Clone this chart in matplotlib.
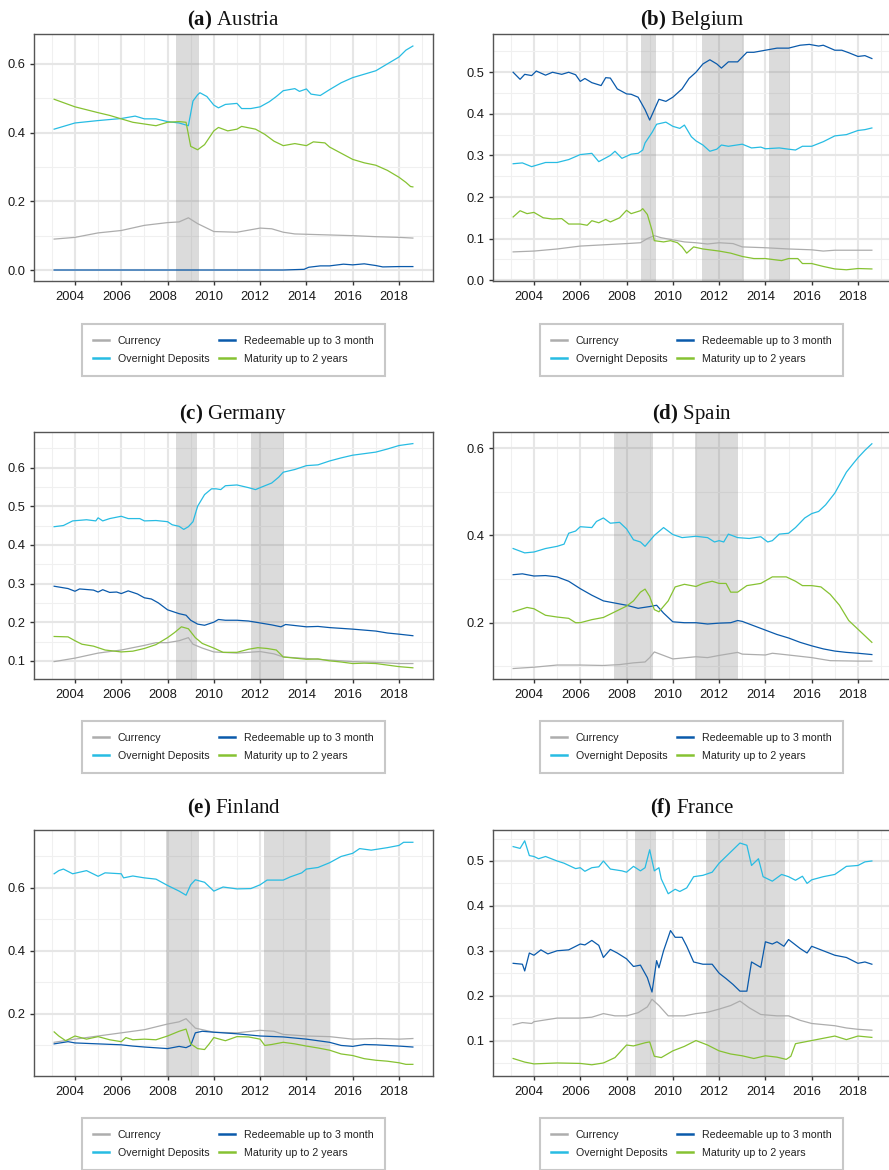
import matplotlib
matplotlib.use("Agg")
import matplotlib.pyplot as plt
import matplotlib.transforms as mtransforms
from matplotlib.lines import Line2D

# ---------------- DATA (year, share) ----------------
AT_CUR = [(2003.1,0.090),(2004,0.095),(2005,0.108),(2006,0.115),(2007,0.130),(2008,0.138),(2008.5,0.140),
          (2008.9,0.152),(2009.3,0.135),(2010,0.112),(2011,0.110),(2012,0.122),(2012.5,0.120),(2013,0.110),
          (2013.5,0.105),(2014,0.104),(2016,0.100),(2017,0.097),(2018,0.095),(2018.6,0.093)]
AT_ON = [(2003.1,0.410),(2004,0.428),(2005,0.435),(2006,0.441),(2006.6,0.448),(2007,0.440),(2007.5,0.440),
         (2008,0.432),(2008.5,0.428),(2008.9,0.420),(2009.1,0.492),(2009.3,0.510),(2009.4,0.516),
         (2009.7,0.505),(2010,0.480),(2010.2,0.472),(2010.5,0.482),(2011,0.485),(2011.2,0.470),
         (2011.6,0.470),(2012,0.475),(2012.4,0.490),(2012.7,0.505),(2013,0.522),(2013.5,0.528),
         (2013.7,0.520),(2014,0.527),(2014.2,0.512),(2014.6,0.508),(2015,0.525),(2015.5,0.545),
         (2016,0.560),(2016.5,0.570),(2017,0.580),(2017.5,0.600),(2018,0.620),(2018.3,0.640),(2018.6,0.652)]
AT_RED = [(2003.1,0.0),(2013,0.0),(2013.9,0.002),(2014.1,0.008),(2014.6,0.012),(2015,0.012),(2015.6,0.017),
          (2016,0.015),(2016.5,0.018),(2017,0.013),(2017.3,0.009),(2018,0.010),(2018.6,0.010)]
AT_MAT = [(2003.1,0.497),(2004,0.475),(2005,0.458),(2005.5,0.450),(2006,0.440),(2006.5,0.430),(2007,0.425),
          (2007.5,0.420),(2008,0.430),(2008.5,0.432),(2008.8,0.430),(2009.0,0.360),(2009.3,0.350),
          (2009.6,0.365),(2010,0.405),(2010.2,0.415),(2010.6,0.405),(2011,0.410),(2011.2,0.418),
          (2011.8,0.410),(2012.2,0.395),(2012.6,0.375),(2013,0.362),(2013.5,0.368),(2014,0.362),
          (2014.3,0.373),(2014.8,0.370),(2015,0.358),(2015.5,0.340),(2016,0.322),(2016.5,0.312),
          (2017,0.305),(2017.5,0.290),(2018,0.270),(2018.3,0.255),(2018.5,0.243),(2018.6,0.242)]

BE_CUR = [(2003.1,0.068),(2004,0.070),(2005,0.075),(2006,0.082),(2007,0.085),(2008,0.088),(2008.6,0.090),
          (2008.9,0.100),(2009.2,0.107),(2009.5,0.102),(2010,0.097),(2010.5,0.092),(2011,0.090),
          (2011.5,0.087),(2012,0.090),(2012.6,0.088),(2013,0.080),(2014,0.078),(2015,0.075),
          (2016,0.073),(2016.5,0.070),(2017,0.072),(2018,0.072),(2018.6,0.072)]
BE_ON = [(2003.1,0.280),(2003.5,0.282),(2003.9,0.273),(2004.5,0.283),(2005,0.283),(2005.5,0.290),(2006,0.302),
         (2006.5,0.305),(2006.8,0.285),(2007.3,0.300),(2007.5,0.310),(2007.8,0.293),(2008.2,0.303),
         (2008.5,0.305),(2008.7,0.313),(2008.8,0.330),(2009.1,0.355),(2009.3,0.375),(2009.7,0.380),
         (2010,0.370),(2010.3,0.365),(2010.5,0.373),(2010.8,0.345),(2011,0.335),(2011.3,0.325),
         (2011.6,0.310),(2011.9,0.315),(2012.1,0.325),(2012.4,0.322),(2013,0.327),(2013.4,0.318),
         (2013.8,0.320),(2014,0.316),(2014.6,0.318),(2015,0.315),(2015.3,0.313),(2015.6,0.322),
         (2016,0.322),(2016.5,0.333),(2017,0.347),(2017.5,0.350),(2018,0.360),(2018.3,0.362),(2018.6,0.366)]
BE_RED = [(2003.1,0.500),(2003.4,0.483),(2003.6,0.495),(2003.9,0.492),(2004.1,0.503),(2004.5,0.493),
          (2004.8,0.500),(2005.2,0.495),(2005.5,0.500),(2005.8,0.494),(2006,0.478),(2006.2,0.485),
          (2006.5,0.475),(2006.9,0.468),(2007.1,0.487),(2007.3,0.486),(2007.6,0.460),(2008,0.448),
          (2008.2,0.447),(2008.5,0.440),(2008.8,0.410),(2009.0,0.385),(2009.2,0.410),(2009.4,0.435),
          (2009.7,0.430),(2010,0.440),(2010.4,0.460),(2010.7,0.485),(2011,0.500),(2011.3,0.520),
          (2011.6,0.530),(2011.9,0.520),(2012.1,0.510),(2012.4,0.525),(2012.8,0.525),(2013.2,0.548),
          (2013.5,0.548),(2014,0.553),(2014.5,0.558),(2015,0.558),(2015.5,0.565),(2015.9,0.567),
          (2016.3,0.563),(2016.5,0.565),(2017,0.553),(2017.3,0.553),(2017.6,0.547),(2018,0.538),
          (2018.3,0.540),(2018.6,0.533)]
BE_MAT = [(2003.1,0.152),(2003.4,0.167),(2003.7,0.160),(2004,0.163),(2004.4,0.150),(2004.8,0.147),
          (2005.2,0.148),(2005.5,0.135),(2006,0.135),(2006.3,0.132),(2006.5,0.143),(2006.8,0.138),
          (2007.1,0.146),(2007.3,0.140),(2007.7,0.150),(2008,0.168),(2008.2,0.160),(2008.6,0.167),
          (2008.7,0.172),(2008.9,0.158),(2009.1,0.120),(2009.2,0.095),(2009.6,0.092),(2009.9,0.095),
          (2010.2,0.090),(2010.4,0.080),(2010.6,0.065),(2010.9,0.080),(2011.3,0.075),(2012,0.070),
          (2012.5,0.065),(2013,0.057),(2013.5,0.052),(2014,0.052),(2014.7,0.047),(2015,0.052),
          (2015.4,0.052),(2015.6,0.040),(2016,0.040),(2016.5,0.033),(2017,0.027),(2017.5,0.025),
          (2018,0.028),(2018.6,0.027)]

DE_CUR = [(2003.1,0.098),(2004,0.107),(2005,0.120),(2006,0.128),(2007,0.140),(2007.5,0.147),(2008,0.147),
          (2008.5,0.152),(2008.9,0.160),(2009.1,0.143),(2009.5,0.133),(2010,0.123),(2011,0.120),
          (2012,0.124),(2012.6,0.118),(2013,0.110),(2014,0.106),(2015,0.102),(2016,0.098),
          (2017,0.096),(2018,0.093),(2018.6,0.093)]
DE_ON = [(2003.1,0.447),(2003.5,0.450),(2003.9,0.462),(2004.5,0.465),(2004.9,0.462),(2005,0.470),
         (2005.2,0.462),(2005.5,0.468),(2006,0.474),(2006.3,0.468),(2006.8,0.468),(2007,0.462),
         (2007.5,0.463),(2008,0.460),(2008.2,0.452),(2008.5,0.448),(2008.7,0.440),(2008.9,0.447),
         (2009.1,0.460),(2009.3,0.500),(2009.6,0.530),(2009.9,0.545),(2010.1,0.545),(2010.3,0.543),
         (2010.5,0.553),(2011,0.555),(2011.5,0.548),(2011.8,0.543),(2012,0.548),(2012.5,0.560),
         (2012.8,0.575),(2013,0.588),(2013.5,0.595),(2014,0.605),(2014.5,0.607),(2015,0.617),
         (2015.5,0.625),(2016,0.632),(2016.5,0.636),(2017,0.640),(2017.5,0.648),(2018,0.657),(2018.6,0.662)]
DE_RED = [(2003.1,0.293),(2003.7,0.287),(2004,0.280),(2004.2,0.286),(2004.8,0.283),(2005,0.278),
          (2005.2,0.284),(2005.5,0.277),(2005.8,0.278),(2006,0.274),(2006.3,0.281),(2006.7,0.273),
          (2007,0.263),(2007.3,0.260),(2007.6,0.250),(2008,0.232),(2008.5,0.222),(2008.8,0.218),
          (2009,0.205),(2009.3,0.195),(2009.6,0.192),(2010,0.200),(2010.2,0.207),(2010.5,0.205),
          (2011,0.205),(2011.5,0.203),(2012,0.198),(2012.5,0.193),(2012.9,0.188),(2013.1,0.194),
          (2014,0.188),(2014.5,0.189),(2015,0.186),(2016,0.182),(2017,0.177),(2017.5,0.172),
          (2018,0.169),(2018.6,0.165)]
DE_MAT = [(2003.1,0.163),(2003.7,0.162),(2004,0.152),(2004.3,0.143),(2004.8,0.138),(2005.3,0.128),
          (2006,0.123),(2006.5,0.125),(2007,0.132),(2007.5,0.142),(2008,0.160),(2008.3,0.173),
          (2008.6,0.188),(2008.9,0.183),(2009.2,0.160),(2009.5,0.145),(2010,0.133),(2010.4,0.122),
          (2011,0.122),(2011.5,0.130),(2011.9,0.134),(2012.3,0.132),(2012.7,0.128),(2013,0.110),
          (2013.5,0.107),(2014,0.104),(2014.5,0.105),(2015,0.100),(2015.5,0.097),(2016,0.093),
          (2016.5,0.094),(2017,0.093),(2017.5,0.089),(2018,0.085),(2018.6,0.082)]

ES_CUR = [(2003.1,0.095),(2004,0.098),(2005,0.103),(2006,0.103),(2007,0.102),(2007.7,0.104),(2008.3,0.108),
          (2008.8,0.110),(2009,0.120),(2009.2,0.133),(2009.6,0.125),(2010,0.117),(2011,0.122),
          (2011.5,0.120),(2012,0.125),(2012.8,0.132),(2013,0.128),(2014,0.126),(2014.3,0.130),
          (2015,0.126),(2016,0.120),(2016.8,0.113),(2018,0.112),(2018.6,0.112)]
ES_ON = [(2003.1,0.370),(2003.6,0.360),(2004,0.362),(2004.5,0.370),(2005,0.375),(2005.3,0.380),(2005.5,0.405),
         (2005.8,0.410),(2006,0.420),(2006.5,0.418),(2006.7,0.432),(2007,0.440),(2007.3,0.428),
         (2007.7,0.430),(2008,0.415),(2008.3,0.390),(2008.6,0.385),(2008.8,0.375),(2009.2,0.400),
         (2009.6,0.418),(2010,0.402),(2010.4,0.395),(2011,0.398),(2011.5,0.395),(2011.8,0.385),
         (2012,0.388),(2012.2,0.385),(2012.4,0.403),(2012.8,0.395),(2013.3,0.393),(2013.8,0.397),
         (2014.1,0.385),(2014.3,0.388),(2014.6,0.403),(2015,0.405),(2015.3,0.418),(2015.7,0.440),
         (2016,0.450),(2016.3,0.455),(2016.6,0.470),(2017,0.497),(2017.5,0.545),(2017.8,0.565),
         (2018,0.578),(2018.3,0.595),(2018.6,0.610)]
ES_RED = [(2003.1,0.310),(2003.5,0.312),(2004,0.307),(2004.5,0.308),(2005,0.305),(2005.5,0.295),(2006,0.278),
          (2006.5,0.263),(2007,0.250),(2007.5,0.245),(2008,0.240),(2008.5,0.233),(2009,0.237),
          (2009.3,0.240),(2009.6,0.222),(2010,0.202),(2010.5,0.200),(2011,0.200),(2011.5,0.197),
          (2012,0.199),(2012.5,0.200),(2012.8,0.205),(2013,0.203),(2013.5,0.193),(2014,0.183),
          (2014.5,0.173),(2015,0.165),(2015.5,0.155),(2016,0.147),(2016.5,0.140),(2017,0.135),
          (2017.5,0.132),(2018,0.130),(2018.6,0.127)]
ES_MAT = [(2003.1,0.225),(2003.7,0.235),(2004,0.232),(2004.5,0.217),(2005,0.213),(2005.5,0.210),(2005.8,0.200),
          (2006,0.200),(2006.5,0.207),(2007,0.212),(2007.5,0.225),(2008,0.238),(2008.3,0.250),
          (2008.6,0.270),(2008.8,0.277),(2009,0.260),(2009.2,0.230),(2009.4,0.225),(2009.8,0.250),
          (2010.1,0.282),(2010.5,0.288),(2011,0.283),(2011.3,0.290),(2011.7,0.295),(2012,0.290),
          (2012.3,0.290),(2012.5,0.270),(2012.8,0.270),(2013.2,0.285),(2013.8,0.290),(2014.3,0.305),
          (2014.6,0.305),(2014.9,0.305),(2015.3,0.295),(2015.6,0.285),(2016,0.285),(2016.4,0.282),
          (2016.8,0.265),(2017.2,0.240),(2017.6,0.205),(2018,0.185),(2018.3,0.170),(2018.6,0.155)]

FI_CUR = [(2003.1,0.110),(2004,0.120),(2005,0.130),(2006,0.140),(2007,0.150),(2008,0.168),(2008.5,0.175),
          (2008.8,0.185),(2009.2,0.155),(2010,0.142),(2011,0.140),(2012,0.148),(2012.6,0.145),
          (2013,0.135),(2014,0.130),(2015,0.128),(2016,0.120),(2017,0.122),(2018,0.120),(2018.6,0.122)]
FI_ON = [(2003.1,0.645),(2003.3,0.655),(2003.5,0.660),(2003.9,0.645),(2004.5,0.655),(2005,0.637),
         (2005.3,0.648),(2006,0.645),(2006.1,0.632),(2006.5,0.638),(2007,0.632),(2007.5,0.628),
         (2008,0.608),(2008.5,0.590),(2008.8,0.577),(2009.0,0.610),(2009.2,0.626),(2009.6,0.618),
         (2010,0.590),(2010.4,0.603),(2011,0.597),(2011.6,0.598),(2012,0.610),(2012.3,0.625),
         (2013,0.625),(2013.3,0.635),(2013.8,0.648),(2014,0.660),(2014.5,0.665),(2015,0.680),
         (2015.5,0.700),(2016,0.710),(2016.3,0.725),(2016.8,0.720),(2017.5,0.728),(2018,0.735),
         (2018.2,0.745),(2018.6,0.745)]
FI_RED = [(2003.1,0.105),(2003.7,0.112),(2004,0.108),(2005,0.105),(2006,0.102),(2006.5,0.098),(2007,0.095),
          (2008,0.090),(2008.5,0.097),(2008.8,0.093),(2009.0,0.100),(2009.2,0.140),(2009.5,0.145),
          (2010,0.142),(2011,0.137),(2012,0.130),(2013,0.127),(2014,0.120),(2015,0.110),(2015.5,0.100),
          (2016,0.097),(2016.5,0.103),(2017,0.102),(2018,0.098),(2018.6,0.095)]
FI_MAT = [(2003.1,0.143),(2003.3,0.130),(2003.6,0.115),(2004,0.130),(2004.5,0.120),(2005,0.128),
          (2005.5,0.118),(2006,0.112),(2006.2,0.125),(2006.5,0.118),(2007,0.120),(2007.5,0.118),
          (2008,0.130),(2008.5,0.145),(2008.8,0.152),(2009.0,0.105),(2009.3,0.090),(2009.6,0.087),
          (2009.8,0.105),(2010,0.125),(2010.5,0.115),(2011,0.128),(2011.5,0.127),(2012,0.120),
          (2012.2,0.100),(2012.5,0.103),(2013,0.110),(2013.5,0.105),(2014,0.098),(2014.5,0.092),
          (2015,0.085),(2015.5,0.073),(2016,0.068),(2016.5,0.058),(2017,0.053),(2017.5,0.050),
          (2018,0.045),(2018.3,0.040),(2018.6,0.040)]

FR_CUR = [(2003.1,0.135),(2003.5,0.140),(2003.9,0.138),(2004,0.142),(2005,0.150),(2006,0.150),(2006.5,0.152),
          (2007,0.160),(2007.5,0.155),(2008,0.155),(2008.5,0.162),(2008.9,0.175),(2009.1,0.192),
          (2009.4,0.178),(2009.8,0.155),(2010.5,0.155),(2011,0.160),(2011.5,0.163),(2012,0.170),
          (2012.5,0.178),(2012.9,0.188),(2013.3,0.173),(2013.8,0.158),(2014.5,0.155),(2015,0.155),
          (2015.5,0.145),(2016,0.138),(2017,0.133),(2017.5,0.128),(2018,0.125),(2018.6,0.123)]
FR_ON = [(2003.1,0.532),(2003.4,0.528),(2003.6,0.545),(2003.8,0.512),(2004,0.510),(2004.2,0.505),
         (2004.5,0.510),(2005,0.500),(2005.3,0.495),(2005.8,0.483),(2006,0.485),(2006.2,0.477),
         (2006.5,0.485),(2006.8,0.487),(2007,0.500),(2007.3,0.482),(2007.8,0.478),(2008,0.475),
         (2008.3,0.488),(2008.6,0.478),(2008.8,0.485),(2009.0,0.525),(2009.2,0.478),(2009.4,0.485),
         (2009.5,0.460),(2009.8,0.427),(2010.1,0.437),(2010.3,0.432),(2010.6,0.440),(2010.9,0.465),
         (2011.3,0.468),(2011.7,0.475),(2012,0.495),(2012.2,0.505),(2012.6,0.525),(2012.9,0.540),
         (2013.2,0.535),(2013.4,0.490),(2013.7,0.505),(2013.9,0.465),(2014.3,0.455),(2014.7,0.470),
         (2015,0.465),(2015.3,0.457),(2015.6,0.466),(2015.8,0.450),(2016,0.458),(2016.5,0.465),
         (2017,0.470),(2017.5,0.488),(2018,0.490),(2018.3,0.498),(2018.6,0.500)]
FR_RED = [(2003.1,0.272),(2003.5,0.270),(2003.6,0.255),(2003.8,0.295),(2004,0.290),(2004.3,0.302),
          (2004.6,0.293),(2005,0.300),(2005.5,0.302),(2006,0.315),(2006.2,0.313),(2006.5,0.323),
          (2006.8,0.312),(2007,0.285),(2007.3,0.303),(2007.6,0.295),(2008,0.282),(2008.3,0.265),
          (2008.6,0.268),(2008.9,0.240),(2009.1,0.208),(2009.3,0.278),(2009.4,0.262),(2009.6,0.300),
          (2009.9,0.345),(2010.1,0.330),(2010.4,0.330),(2010.6,0.310),(2010.9,0.275),(2011.3,0.270),
          (2011.7,0.270),(2012,0.250),(2012.3,0.238),(2012.6,0.225),(2012.9,0.210),(2013.2,0.210),
          (2013.4,0.275),(2013.8,0.263),(2014,0.320),(2014.3,0.315),(2014.5,0.320),(2014.8,0.310),
          (2015,0.325),(2015.5,0.305),(2015.8,0.295),(2016,0.310),(2016.5,0.300),(2017,0.290),
          (2017.5,0.285),(2018,0.272),(2018.3,0.275),(2018.6,0.270)]
FR_MAT = [(2003.1,0.060),(2003.6,0.052),(2004,0.048),(2005,0.050),(2006,0.049),(2006.5,0.046),(2007,0.050),
          (2007.5,0.062),(2008,0.090),(2008.3,0.088),(2008.8,0.095),(2009.0,0.097),(2009.2,0.065),
          (2009.5,0.062),(2010,0.077),(2010.5,0.087),(2011,0.100),(2011.5,0.090),(2012,0.077),
          (2012.5,0.070),(2013,0.066),(2013.5,0.060),(2014,0.066),(2014.5,0.063),(2014.9,0.058),
          (2015.1,0.065),(2015.3,0.093),(2016,0.100),(2016.5,0.105),(2017,0.110),(2017.5,0.102),
          (2018,0.110),(2018.6,0.107)]

SERIES_LABELS = ["Currency", "Overnight Deposits", "Redeemable up to 3 month", "Maturity up to 2 years"]
SERIES_COLORS = ["#ADADAD", "#27BCE3", "#0A5AAB", "#86C232"]

PANELS = [
    ("(a)", "Austria", [AT_CUR, AT_ON, AT_RED, AT_MAT], [(2008.36, 2009.34)],
     (-0.032, 0.687), [0.0, 0.2, 0.4, 0.6], [0.1, 0.3, 0.5]),
    ("(b)", "Belgium", [BE_CUR, BE_ON, BE_RED, BE_MAT],
     [(2008.61, 2009.26), (2011.27, 2013.09), (2014.17, 2015.06)],
     (-0.002, 0.592), [0.0, 0.1, 0.2, 0.3, 0.4, 0.5], [0.05, 0.15, 0.25, 0.35, 0.45, 0.55]),
    ("(c)", "Germany", [DE_CUR, DE_ON, DE_RED, DE_MAT], [(2008.36, 2009.26), (2011.61, 2013.02)],
     (0.053, 0.692), [0.1, 0.2, 0.3, 0.4, 0.5, 0.6], [0.15, 0.25, 0.35, 0.45, 0.55, 0.65]),
    ("(d)", "Spain", [ES_CUR, ES_ON, ES_RED, ES_MAT], [(2007.44, 2009.16), (2010.94, 2012.83)],
     (0.071, 0.637), [0.2, 0.4, 0.6], [0.1, 0.3, 0.5]),
    ("(e)", "Finland", [FI_CUR, FI_ON, FI_RED, FI_MAT], [(2007.94, 2009.34), (2012.17, 2015.0)],
     (0.003, 0.784), [0.2, 0.4, 0.6], [0.1, 0.3, 0.5, 0.7]),
    ("(f)", "France", [FR_CUR, FR_ON, FR_RED, FR_MAT], [(2008.36, 2009.26), (2011.42, 2014.84)],
     (0.021, 0.569), [0.1, 0.2, 0.3, 0.4, 0.5], [0.05, 0.15, 0.25, 0.35, 0.45, 0.55]),
]

YEAR_MAJOR = [2004, 2006, 2008, 2010, 2012, 2014, 2016, 2018]
YEAR_MINOR = [2003, 2005, 2007, 2009, 2011, 2013, 2015, 2017, 2019]

# ---------------- LAYOUT ----------------
W, H = 889, 1170
plt.rcParams["mathtext.fontset"] = "custom"
plt.rcParams["mathtext.rm"] = "Liberation Serif"
plt.rcParams["mathtext.bf"] = "Liberation Serif:bold"
plt.rcParams["font.family"] = ["Liberation Sans", "DejaVu Sans"]

fig = plt.figure(figsize=(W / 100, H / 100), dpi=100)

col_x = [(34, 433), (493, 892)]
row_y = [(34, 281), (432, 679), (830, 1076)]
title_y = [20, 414, 808]
legend_cy = [350, 747, 1144]
legend_cx = [233.5, 691.5]

def fx(px):
    return px / W

def fy(py):
    return 1 - py / H

for i, (tag, name, series, spans, ylim, ymaj, ymin) in enumerate(PANELS):
    r, c = divmod(i, 2)
    x0, x1 = col_x[c]
    y0, y1 = row_y[r]
    ax = fig.add_axes([fx(x0), fy(y1), fx(x1 - x0), (y1 - y0) / H])
    ax.set_facecolor("white")
    ax.set_axisbelow(True)
    ax.grid(which="major", color="#E6E6E6", linewidth=1.5)
    ax.grid(which="minor", color="#F0F0F0", linewidth=0.8)
    for (s0, s1) in spans:
        ax.axvspan(s0, s1, facecolor="#808080", alpha=0.28, edgecolor="none", zorder=1.5)
    for data, col, lab in zip(series, SERIES_COLORS, SERIES_LABELS):
        t = [p[0] for p in data]
        v = [p[1] for p in data]
        ax.plot(t, v, color=col, linewidth=0.9, label=lab, zorder=3)
    ax.set_xlim(2002.23, 2019.47)
    ax.set_ylim(*ylim)
    ax.set_xticks(YEAR_MAJOR)
    ax.set_xticks(YEAR_MINOR, minor=True)
    ax.set_xticklabels([str(y) for y in YEAR_MAJOR])
    ax.set_yticks(ymaj)
    ax.set_yticks(ymin, minor=True)
    ax.set_yticklabels([f"{v:.1f}" for v in ymaj])
    ax.tick_params(which="major", length=3, width=1, color="#333333", labelsize=9.3,
                   labelcolor="#1A1A1A")
    ax.tick_params(which="minor", length=0)
    ax.tick_params(axis="x", pad=4)
    ax.tick_params(axis="y", pad=3)
    offset = mtransforms.ScaledTranslation(-5 / 100, 0, fig.dpi_scale_trans)
    for lbl in ax.get_xticklabels():
        lbl.set_transform(lbl.get_transform() + offset)
    for sp in ax.spines.values():
        sp.set_color("#555555")
        sp.set_linewidth(1.0)

    fig.text(fx((x0 + x1) / 2), fy(title_y[r]), r"$\mathbf{" + tag + r"}$ " + name,
             ha="center", va="center", fontsize=15, family="Liberation Serif", color="#111111")

    handles = [Line2D([0], [0], color=cc, linewidth=1.8) for cc in SERIES_COLORS]
    leg = fig.legend(handles, SERIES_LABELS, loc="center",
                     bbox_to_anchor=(fx(legend_cx[c]), fy(legend_cy[r])),
                     ncol=2, fontsize=7.7, frameon=True, fancybox=False, framealpha=1,
                     edgecolor="#C8C8C8", handlelength=1.5, handletextpad=0.8,
                     columnspacing=0.9, labelspacing=0.75, borderpad=1.1)
    leg.get_frame().set_linewidth(1.5)
    for txt in leg.get_texts():
        txt.set_color("#222222")

fig.savefig("out.png", dpi=100)
